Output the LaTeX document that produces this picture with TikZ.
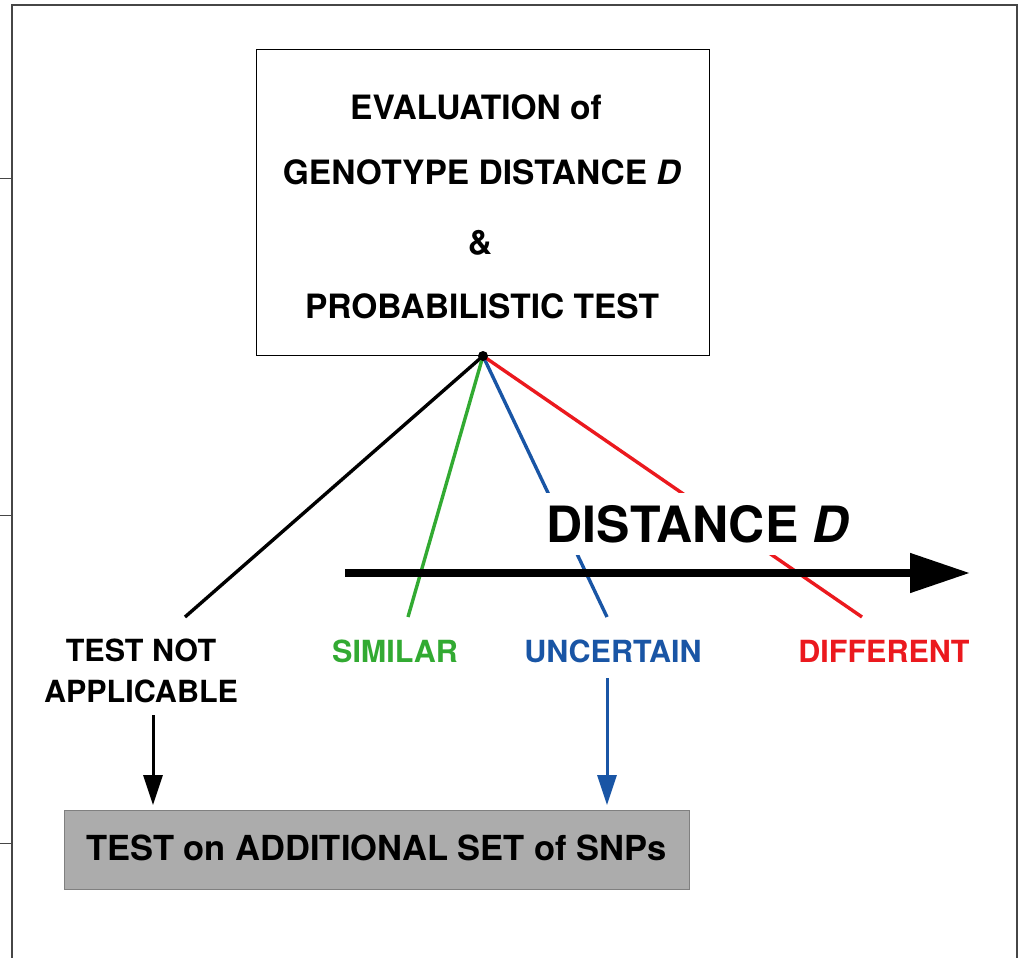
\documentclass[tikz,border=0pt]{standalone}
\usepackage{fontspec}
\setmainfont{TeX Gyre Heros}
\usetikzlibrary{arrows.meta}

\definecolor{simgreen}{RGB}{50,170,50}
\definecolor{uncblue}{RGB}{25,85,165}
\definecolor{difred}{RGB}{235,25,30}
\definecolor{framegray}{RGB}{70,70,70}
\definecolor{boxgray}{RGB}{172,172,172}

\tikzset{
  head/.style={font=\fontsize{33.5}{40}\selectfont\bfseries, inner sep=0pt},
  lbl/.style={font=\fontsize{30.5}{41}\selectfont\bfseries, align=center, inner sep=0pt},
  branch/.style={line width=3.4pt},
  down/.style={line width=3pt, -{Triangle[length=30pt,width=19pt]}},
}

\begin{document}
\begin{tikzpicture}[x=1pt, y=-1pt]
      \useasboundingbox (0,0) rectangle (1021,958);
      % frame and ticks
      \draw[framegray, line width=1.5pt] (12,958) -- (12,5) -- (1017,5) -- (1017,958);
      \foreach \t in {178,515,843}
        \draw[framegray, line width=1pt] (0,\t) -- (12,\t);
      % evaluation box
      \node[draw, line width=1pt, anchor=north west, inner sep=0pt,
            minimum width=453pt, minimum height=306pt] (evalbox) at (256,49) {};
      \node[head] (line1) at (476,107) {EVALUATION of};
      \node[head] (line2) at (482,172) {GENOTYPE DISTANCE \textit{D}};
      \node[head] (line3) at (480,243) {\&};
      \node[head] (line4) at (482,306) {PROBABILISTIC TEST};
      \coordinate (apex) at (evalbox.south);
      % outcome labels
      \node[lbl] (notapp) at (141,671) {TEST NOT\\APPLICABLE};
      \node[lbl, simgreen] (similar) at (395,651) {SIMILAR};
      \node[lbl, uncblue] (uncertain) at (613,651) {UNCERTAIN};
      \node[lbl, difred] (different) at (884,651) {DIFFERENT};
      % branch ends
      \coordinate (notappend) at (185,617);
      \coordinate (similarend) at (408,617);
      \coordinate (uncertainend) at (607,617);
      \coordinate (differentend) at (862,617);
      \draw[branch] (apex) -- (notappend);
      \draw[branch, simgreen] (apex) -- (similarend);
      \draw[branch, uncblue] (apex) -- (uncertainend);
      \draw[branch, difred] (apex) -- (differentend);
      \fill (apex) circle[radius=5pt];
      % distance axis
      \node[fill=white, font=\fontsize{50}{58}\selectfont\bfseries, inner xsep=1pt,
            minimum height=62pt] (dist) at (698,524) {DISTANCE \textit{D}};
      \coordinate (axstart) at (345,573);
      \coordinate (axend) at (970,573);
      \draw[line width=8pt, -{Triangle[length=60pt,width=38pt]}] (axstart) -- (axend);
      % additional test
      \node[draw=gray, fill=boxgray, line width=1pt, minimum width=625pt, minimum height=79pt,
            font=\fontsize{34.5}{40}\selectfont\bfseries] (addtest) at (376.5,849.5)
            {\raisebox{3pt}{TEST on ADDITIONAL SET of SNPs}};
      \coordinate (notappfoot) at (153,715);
      \coordinate (uncertainfoot) at (607,678);
      \draw[down] (notappfoot) -- (153,805);
      \draw[down, uncblue] (uncertainfoot) -- (607,805);
\end{tikzpicture}
\end{document}
